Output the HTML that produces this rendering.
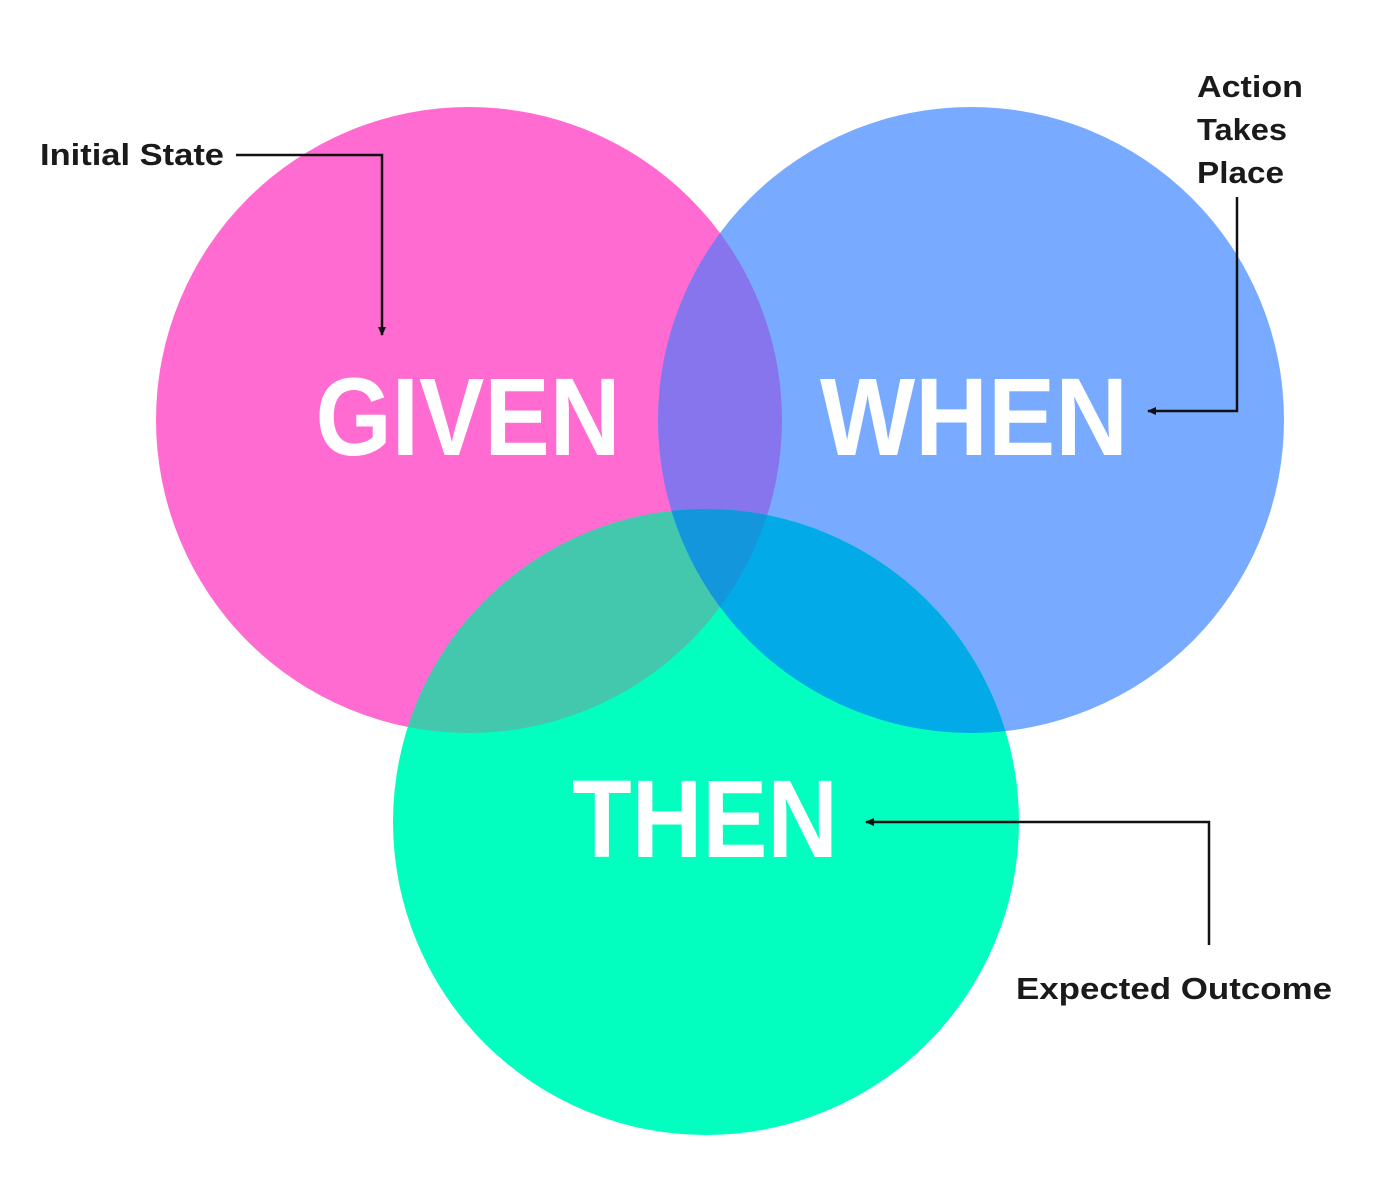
<!DOCTYPE html>
<html><head><meta charset="utf-8"><style>body{margin:0;background:#fff}svg{display:block}</style></head>
<body>
<svg width="1375" height="1201" viewBox="0 0 1375 1201" xmlns="http://www.w3.org/2000/svg">
<defs>
<clipPath id="cp"><circle cx="469" cy="420" r="313"/></clipPath>
<clipPath id="cb"><circle cx="971" cy="420" r="313"/></clipPath>
<clipPath id="cg"><circle cx="706" cy="822" r="313"/></clipPath>
<marker id="ar" markerWidth="10" markerHeight="10" refX="8" refY="5" orient="auto" markerUnits="userSpaceOnUse"><path d="M0,1 L9,5 L0,9 Z" fill="#111"/></marker>
</defs>
<circle cx="469" cy="420" r="313" fill="#FF6BD0"/>
<circle cx="971" cy="420" r="313" fill="#78ABFF"/>
<circle cx="706" cy="822" r="313" fill="#03FFC0"/>
<circle cx="971" cy="420" r="313" fill="#8775EE" clip-path="url(#cp)"/>
<circle cx="706" cy="822" r="313" fill="#43C8AD" clip-path="url(#cp)"/>
<circle cx="706" cy="822" r="313" fill="#03AAE8" clip-path="url(#cb)"/>
<g clip-path="url(#cp)"><circle cx="971" cy="420" r="313" fill="#1496DC" clip-path="url(#cg)"/></g>
<g font-family="Liberation Sans, sans-serif" font-weight="bold" fill="#fff" font-size="98" text-anchor="middle">
<text transform="translate(468,455) scale(1,1.13)" textLength="305" lengthAdjust="spacingAndGlyphs">GIVEN</text>
<text transform="translate(974,455) scale(1,1.13)" textLength="308" lengthAdjust="spacingAndGlyphs">WHEN</text>
<text transform="translate(705,857) scale(1,1.13)" textLength="266" lengthAdjust="spacingAndGlyphs">THEN</text>
</g>
<g font-family="Liberation Sans, sans-serif" font-weight="bold" fill="#1a1a1a" font-size="31" lengthAdjust="spacingAndGlyphs">
<text x="40" y="165" textLength="184" lengthAdjust="spacingAndGlyphs">Initial State</text>
<text x="1197" y="97" textLength="106" lengthAdjust="spacingAndGlyphs">Action</text>
<text x="1197" y="140" textLength="90" lengthAdjust="spacingAndGlyphs">Takes</text>
<text x="1197" y="183" textLength="87" lengthAdjust="spacingAndGlyphs">Place</text>
<text x="1016" y="999" textLength="316" lengthAdjust="spacingAndGlyphs">Expected Outcome</text>
</g>
<g fill="none" stroke="#111" stroke-width="2.5">
<path d="M236,155 H382 V335" marker-end="url(#ar)"/>
<path d="M1237,197 V411 H1148" marker-end="url(#ar)"/>
<path d="M1209,945 V822 H866" marker-end="url(#ar)"/>
</g>
</svg>
</body></html>
